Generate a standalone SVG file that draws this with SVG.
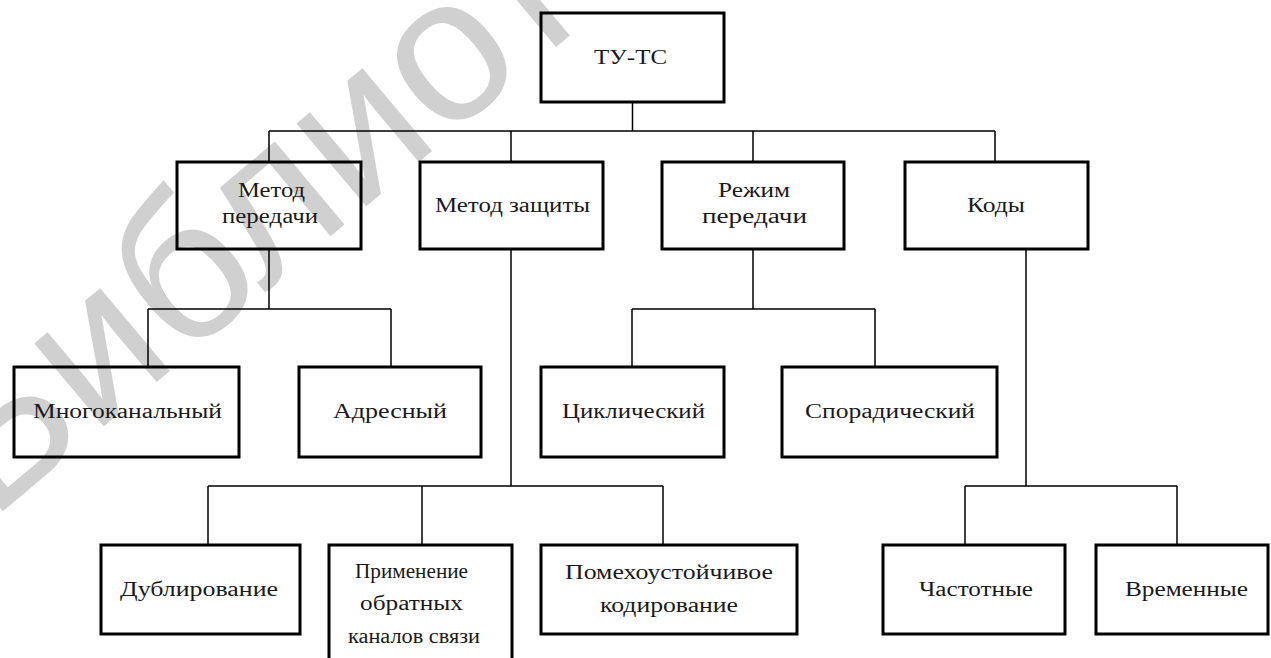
<svg xmlns="http://www.w3.org/2000/svg" width="1271" height="658" viewBox="0 0 1271 658">
<style>
.box{fill:none;stroke:#000;stroke-width:3}
.ln{fill:none;stroke:#000;stroke-width:1.5}
.t{font-family:"Liberation Serif","Times New Roman",serif;font-size:20px;fill:#1a1a1a;text-anchor:middle}
.wm{font-family:"Liberation Sans",Arial,sans-serif;font-size:205px;fill:#d0d0d0}
</style>
<rect width="1271" height="658" fill="#fff"/>
<text class="wm" transform="translate(-10,522) rotate(-40)">Библиотека</text>
<g id="connectors">
<path class="ln" d="M632.5,102V131M269,131H995M269,131V162M511,131V162M753,131V162M995,131V162"/>
<path class="ln" d="M269,249V309M148,309H391M148,309V367M391,309V367"/>
<path class="ln" d="M753,249V309M632,309H875M632,309V367M875,309V367"/>
<path class="ln" d="M511,249V486M208,486H663M208,486V545M422,486V545M663,486V545"/>
<path class="ln" d="M1026,249V486M965,486H1177M965,486V545M1177,486V545"/>
</g>
<g id="n-tuts"><rect class="box" x="541" y="13" width="183" height="89"/><text class="t" x="630.5" y="64" textLength="73" lengthAdjust="spacingAndGlyphs">ТУ-ТС</text></g>
<g id="n-metod-peredachi"><rect class="box" x="177" y="162" width="184" height="87"/><text class="t" x="271.5" y="197" textLength="67" lengthAdjust="spacingAndGlyphs">Метод</text><text class="t" x="270" y="223" textLength="96" lengthAdjust="spacingAndGlyphs">передачи</text></g>
<g id="n-metod-zashchity"><rect class="box" x="420" y="162" width="183" height="87"/><text class="t" x="512.5" y="212" textLength="155" lengthAdjust="spacingAndGlyphs">Метод защиты</text></g>
<g id="n-rezhim"><rect class="box" x="662" y="162" width="182" height="87"/><text class="t" x="754" y="197" textLength="72" lengthAdjust="spacingAndGlyphs">Режим</text><text class="t" x="754.5" y="223" textLength="105" lengthAdjust="spacingAndGlyphs">передачи</text></g>
<g id="n-kody"><rect class="box" x="905" y="162" width="183" height="87"/><text class="t" x="996" y="212" textLength="58" lengthAdjust="spacingAndGlyphs">Коды</text></g>
<g id="n-mnogokanalny"><rect class="box" x="14" y="367" width="225" height="90"/><text class="t" x="127.5" y="418" textLength="189" lengthAdjust="spacingAndGlyphs">Многоканальный</text></g>
<g id="n-adresny"><rect class="box" x="299" y="367" width="182" height="90"/><text class="t" x="390" y="418" textLength="114" lengthAdjust="spacingAndGlyphs">Адресный</text></g>
<g id="n-tsiklichesky"><rect class="box" x="541" y="367" width="183" height="90"/><text class="t" x="633.5" y="418" textLength="143" lengthAdjust="spacingAndGlyphs">Циклический</text></g>
<g id="n-sporadichesky"><rect class="box" x="782" y="367" width="215" height="90"/><text class="t" x="890" y="418" textLength="170" lengthAdjust="spacingAndGlyphs">Спорадический</text></g>
<g id="n-dublirovanie"><rect class="box" x="101" y="545" width="199" height="89"/><text class="t" x="199" y="596" textLength="158" lengthAdjust="spacingAndGlyphs">Дублирование</text></g>
<g id="n-primenenie"><rect class="box" x="329" y="545" width="183" height="120"/><text class="t" x="411.5" y="578" textLength="113" lengthAdjust="spacingAndGlyphs">Применение</text><text class="t" x="411.5" y="610" textLength="103" lengthAdjust="spacingAndGlyphs">обратных</text><text class="t" x="414" y="643" textLength="132" lengthAdjust="spacingAndGlyphs">каналов связи</text></g>
<g id="n-pomekhoustoychivoe"><rect class="box" x="541" y="545" width="256" height="89"/><text class="t" x="669" y="579" textLength="208" lengthAdjust="spacingAndGlyphs">Помехоустойчивое</text><text class="t" x="669" y="612" textLength="138" lengthAdjust="spacingAndGlyphs">кодирование</text></g>
<g id="n-chastotnye"><rect class="box" x="883" y="545" width="182" height="89"/><text class="t" x="976" y="596" textLength="114" lengthAdjust="spacingAndGlyphs">Частотные</text></g>
<g id="n-vremennye"><rect class="box" x="1096" y="545" width="172" height="89"/><text class="t" x="1186.5" y="596" textLength="123" lengthAdjust="spacingAndGlyphs">Временные</text></g>
</svg>
